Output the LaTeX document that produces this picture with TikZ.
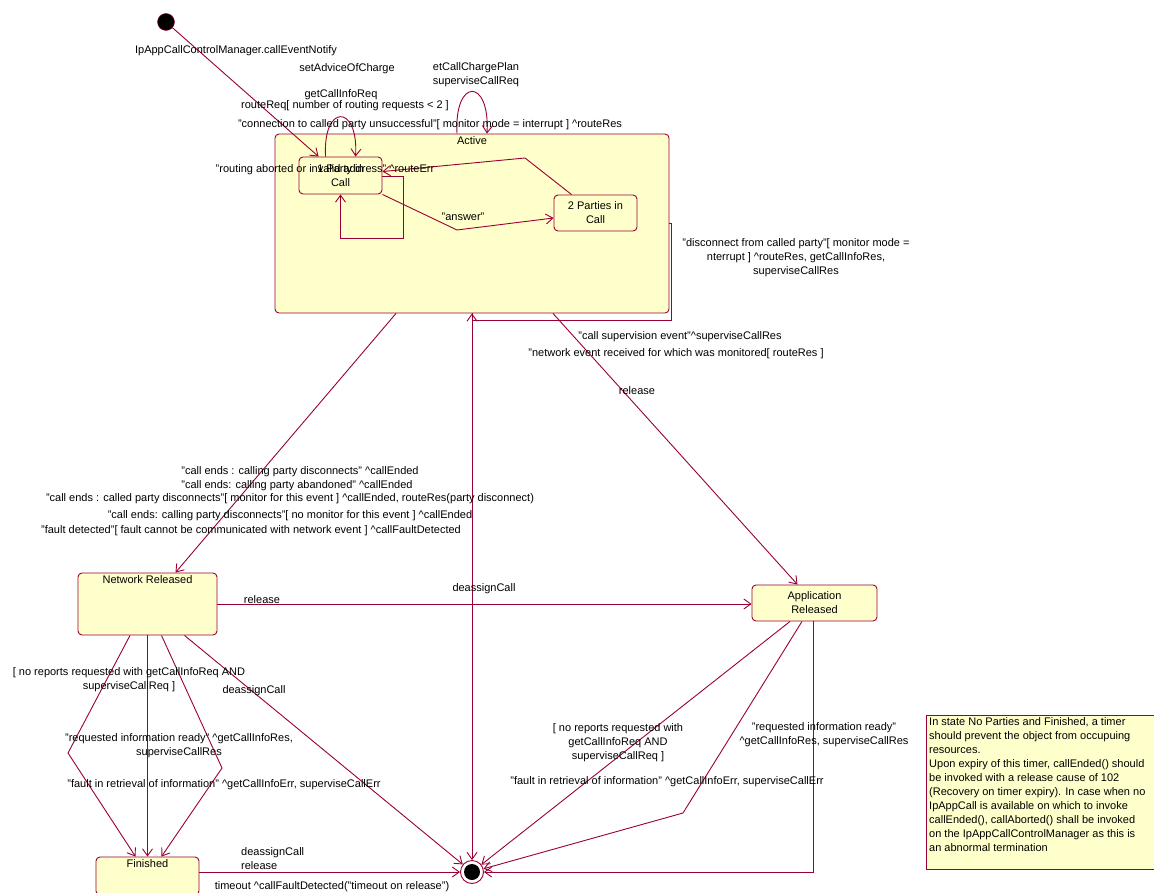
\documentclass[tikz,border=0pt]{standalone}
\usepackage{fontspec}
\setmainfont{Liberation Sans}
\usetikzlibrary{arrows.meta}
\definecolor{umlred}{RGB}{153,0,51}
\definecolor{umlfill}{RGB}{255,255,204}
\tikzset{
  statebox/.style={draw=umlred, fill=umlfill, rounded corners=4pt, line width=0.9pt, inner sep=1pt, align=center, font=\fontsize{11}{14}\selectfont},
  trans/.style={draw=umlred, line width=0.9pt, -{Straight Barb[length=7pt,width=10pt]}},
  lbl/.style={inner sep=0pt, align=center, font=\fontsize{11}{14}\selectfont},
  startdot/.style={circle, draw=umlred, fill=black, minimum size=17pt, inner sep=0pt},
  enddot/.style={circle, draw=umlred, fill=white, minimum size=23pt, inner sep=0pt, line width=0.9pt,
    path picture={\fill[black] (path picture bounding box.center) circle (8pt);}},
}

\begin{document}
\begin{tikzpicture}[x=1pt, y=-1pt]
\useasboundingbox (0,0) rectangle (1154,893);
%% states
  \node[startdot] (init) at (166,22) {};
  \node[statebox, minimum width=394pt, minimum height=179pt,
    label={[lbl, name=activename, anchor=north, yshift=-3pt]north:Active}] (active) at (472,223.5) {};
  \node[statebox, minimum width=83pt, minimum height=37pt] (party1) at (340.5,175.5) {1 Party in\\Call};
  \node[statebox, minimum width=83pt, minimum height=36pt] (party2) at (595.5,213) {2 Parties in\\Call};
  \node[statebox, minimum width=139pt, minimum height=62pt,
    label={[lbl, name=netrelname, anchor=north, yshift=-3pt]north:Network Released}] (netrel) at (147.5,604) {};
  \node[statebox, minimum width=125pt, minimum height=36pt] (apprel) at (814.5,603) {Application\\Released};
  \node[statebox, minimum width=103pt, minimum height=38pt,
    label={[lbl, name=finname, anchor=north, yshift=-3pt]north:Finished}] (finished) at (147.5,876) {};
  \node[enddot] (final) at (472,872) {};
%% note
  \node[statebox, rounded corners=0pt, anchor=north west, minimum width=240pt, minimum height=154pt] (note) at (926,715) {};
  \node[lbl, align=left, anchor=north west] (notetext) at ([shift={(3pt,-2pt)}]note.north west)
    {In state No Parties and Finished, a timer\\should prevent the object from occupuing\\resources.\\
     Upon expiry of this timer, callEnded() should\\be invoked with a release cause of 102\\
     (Recovery on timer expiry). In case when no\\IpAppCall is available on which to invoke\\
     callEnded(), callAborted() shall be invoked\\on the IpAppCallControlManager as this is\\an abnormal termination};
%% transitions inside Active
  \draw[trans] (init) -- ([xshift=20pt]party1.north west);
  \draw[trans] ([xshift=27pt]party1.north west) .. controls +(-3,-53) and +(3,-53) .. ([xshift=57pt]party1.north west);
  \draw[trans] ([xshift=-15pt]active.north) .. controls +(-3,-56) and +(3,-56) .. ([xshift=15pt]active.north);
  \draw[trans] ([xshift=18pt]party2.north west) -- (525,158) -- ([yshift=-15pt]party1.north east);
  \draw[trans] ([yshift=-20pt]party1.north east) -- ++(21,0) |- ([yshift=-44pt]party1.south) -- (party1.south);
  \draw[trans] (party1.south east) -- (457,230) -- ([yshift=-5pt]party2.west);
  \draw[trans] (active.east) -- ++(2,0) |- ([yshift=-7pt]active.south) -- (active.south);
%% transitions out of Active
  \draw[trans] (active.south) -- (final);
  \draw[trans] ([xshift=-76pt]active.south) -- ([xshift=28pt]netrel.north);
  \draw[trans] ([xshift=81pt]active.south) -- ([xshift=-17pt]apprel.north);
  \draw[trans] (netrel.east) -- (netrel.east -| apprel.west);
%% Network Released to Finished
  \draw[trans] ([xshift=-17.5pt]netrel.south) -- (68,753) -- ([xshift=-12pt]finished.north);
  \draw[trans] (netrel.south) -- (finished.north);
  \draw[trans] ([xshift=14pt]netrel.south) -- (222,768) -- ([xshift=14pt]finished.north);
  \draw[trans] ([xshift=37pt]netrel.south) -- (final);
  \draw[trans] ([yshift=4pt]finished.east) -- (final);
%% Application Released to end
  \draw[trans] ([xshift=-24.5pt]apprel.south) -- (final);
  \draw[trans] ([xshift=-12.5pt]apprel.south) -- (683,813) -- (final);
  \draw[trans] ([xshift=-1.5pt]apprel.south) |- (final.east);
%% labels
  \node[lbl] (lnotify) at (236,51) {IpAppCallControlManager.callEventNotify};
  \node[lbl] (laoc) at (347,69) {setAdviceOfCharge};
  \node[lbl] (linfo) at (341,95) {getCallInfoReq};
  \node[lbl] (lroute) at (345,106) {routeReq[ number of routing requests < 2 ]};
  \node[lbl] (lcharge) at (476,75) {etCallChargePlan\\superviseCallReq};
  \node[lbl] (lunsucc) at (430,125) {"connection to called party unsuccessful"[ monitor mode = interrupt ] \textasciicircum routeRes};
  \node[lbl] (labort) at (325,170) {"routing aborted or invalid address" \textasciicircum routeErr};
  \node[lbl] (lanswer) at (463,217) {"answer"};
  \node[lbl] (ldisc) at (796,258) {"disconnect from called party"[ monitor mode =\\nterrupt ] \textasciicircum routeRes, getCallInfoRes,\\superviseCallRes};
  \node[lbl] (lsuperv) at (680,337) {"call supervision event"\textasciicircum superviseCallRes};
  \node[lbl] (lnetev) at (676,354) {"network event received for which was monitored[ routeRes ]};
  \node[lbl] (lrelapp) at (637,391) {release};
  \node[lbl] (lend1) at (300,472) {"call ends : calling party disconnects" \textasciicircum callEnded};
  \node[lbl] (lend2) at (297,486) {"call ends: calling party abandoned" \textasciicircum callEnded};
  \node[lbl] (lend3) at (290,499) {"call ends : called party disconnects"[ monitor for this event ] \textasciicircum callEnded, routeRes(party disconnect)};
  \node[lbl] (lend4) at (290,516) {"call ends: calling party disconnects"[ no monitor for this event ] \textasciicircum callEnded};
  \node[lbl] (lend5) at (251,531) {"fault detected"[ fault cannot be communicated with network event ] \textasciicircum callFaultDetected};
  \node[lbl] (lrelnet) at (262,600) {release};
  \node[lbl] (ldeassign) at (484,589) {deassignCall};
  \node[lbl] (lnorep) at (129,680) {[ no reports requested with getCallInfoReq AND\\superviseCallReq ]};
  \node[lbl] (ldeassign2) at (254,691) {deassignCall};
  \node[lbl] (lready) at (179,746) {"requested information ready" \textasciicircum getCallInfoRes,\\superviseCallRes};
  \node[lbl] (lfault) at (224,785) {"fault in retrieval of information" \textasciicircum getCallInfoErr, superviseCallErr};
  \node[lbl, align=left, anchor=west] (lfinrel) at (241,859) {deassignCall\\release};
  \node[lbl] (ltimeout) at (332,887) {timeout \textasciicircum callFaultDetected("timeout on release")};
  \node[lbl] (lnorep2) at (618,743) {[ no reports requested with\\getCallInfoReq AND\\superviseCallReq ]};
  \node[lbl] (lready2) at (824,735) {"requested information ready"\\\textasciicircum getCallInfoRes, superviseCallRes};
  \node[lbl] (lfault2) at (667,782) {"fault in retrieval of information" \textasciicircum getCallInfoErr, superviseCallErr};
\end{tikzpicture}
\end{document}
